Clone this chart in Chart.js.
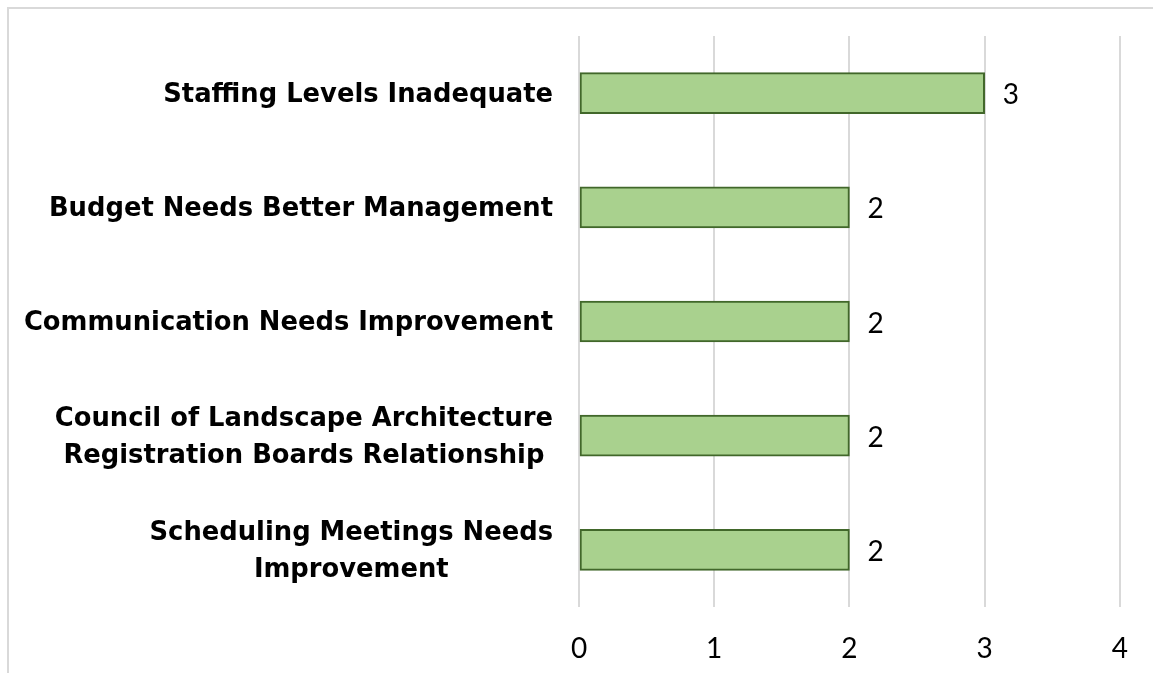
<!DOCTYPE html>
<html lang="en">
<head>
    <meta charset="UTF-8">
    <title>Issues chart</title>
    <style>
        body { margin: 0; background: #fff; }
        .frame {
            position: absolute;
            left: 7px; top: 7px;
            width: 1160px; height: 680px;
            border: 2px solid #d9d9d9;
        }
        .wrap { position: absolute; left: 0; top: 0; width: 1153px; height: 673px; }
    </style>
</head>
<body>
    <div class="frame"></div>
    <div class="wrap"><canvas id="chart"></canvas></div>

    <script src="https://cdn.jsdelivr.net/npm/chart.js"></script>
    <script>
        // Datos del gráfico
        const categories = [
            ['Staffing Levels Inadequate'],
            ['Budget Needs Better Management'],
            ['Communication Needs Improvement'],
            ['Council of Landscape Architecture', 'Registration Boards Relationship'],
            ['Scheduling Meetings Needs', 'Improvement']
        ];
        const counts = [3, 2, 2, 2, 2];
        const xTicks = [0, 1, 2, 3, 4];

        const labelFont = 'bold 25.8px "DejaVu Sans"';
        const numFont = '28px Lato';

        // Etiquetas de categoría centradas línea a línea y valores al final de cada barra
        const labelPlugin = {
            id: 'labelPlugin',
            afterDraw(chart) {
                const ctx = chart.ctx;
                const y = chart.scales.y;
                const right = chart.chartArea.left - 26;
                ctx.save();
                ctx.fillStyle = '#000';
                ctx.font = labelFont;
                ctx.textAlign = 'center';
                ctx.textBaseline = 'middle';
                categories.forEach((lines, i) => {
                    const cy = y.getPixelForTick(i);
                    const w = Math.max(...lines.map(l => ctx.measureText(l).width));
                    const cx = right - w / 2;
                    const lh = 37;
                    lines.forEach((l, j) => {
                        ctx.fillText(l, cx, cy + 2 + (j - (lines.length - 1) / 2) * lh);
                    });
                });
                ctx.font = numFont;
                ctx.textAlign = 'left';
                const meta = chart.getDatasetMeta(0);
                meta.data.forEach((bar, i) => {
                    ctx.fillText(String(counts[i]), bar.x + 18, bar.y + 2);
                });
                ctx.restore();
            }
        };

        new Chart(document.getElementById('chart'), {
            type: 'bar',
            data: {
                labels: categories,
                datasets: [{
                    data: counts,
                    backgroundColor: '#a9d18e',
                    borderColor: '#41672a',
                    borderWidth: 2,
                    borderSkipped: false,
                    barThickness: 41
                }]
            },
            options: {
                indexAxis: 'y',
                responsive: true,
                maintainAspectRatio: false,
                animation: false,
                layout: { padding: { left: 0, right: 26, top: 36, bottom: 0 } },
                plugins: { legend: { display: false }, tooltip: { enabled: false } },
                scales: {
                    x: {
                        min: 0,
                        max: 4,
                        afterBuildTicks: s => { s.ticks = xTicks.map(v => ({ value: v })); },
                        grid: { color: '#d9d9d9', lineWidth: 2, drawTicks: false },
                        border: { display: false },
                        ticks: {
                            padding: 25,
                            color: '#000',
                            font: { family: 'Lato', size: 28 }
                        },
                        afterFit: s => { s.height = 66; }
                    },
                    y: {
                        grid: { display: false },
                        border: { display: false },
                        ticks: { display: false },
                        afterFit: s => { s.width = 579; }
                    }
                }
            },
            plugins: [labelPlugin]
        });
    </script>
</body>
</html>
